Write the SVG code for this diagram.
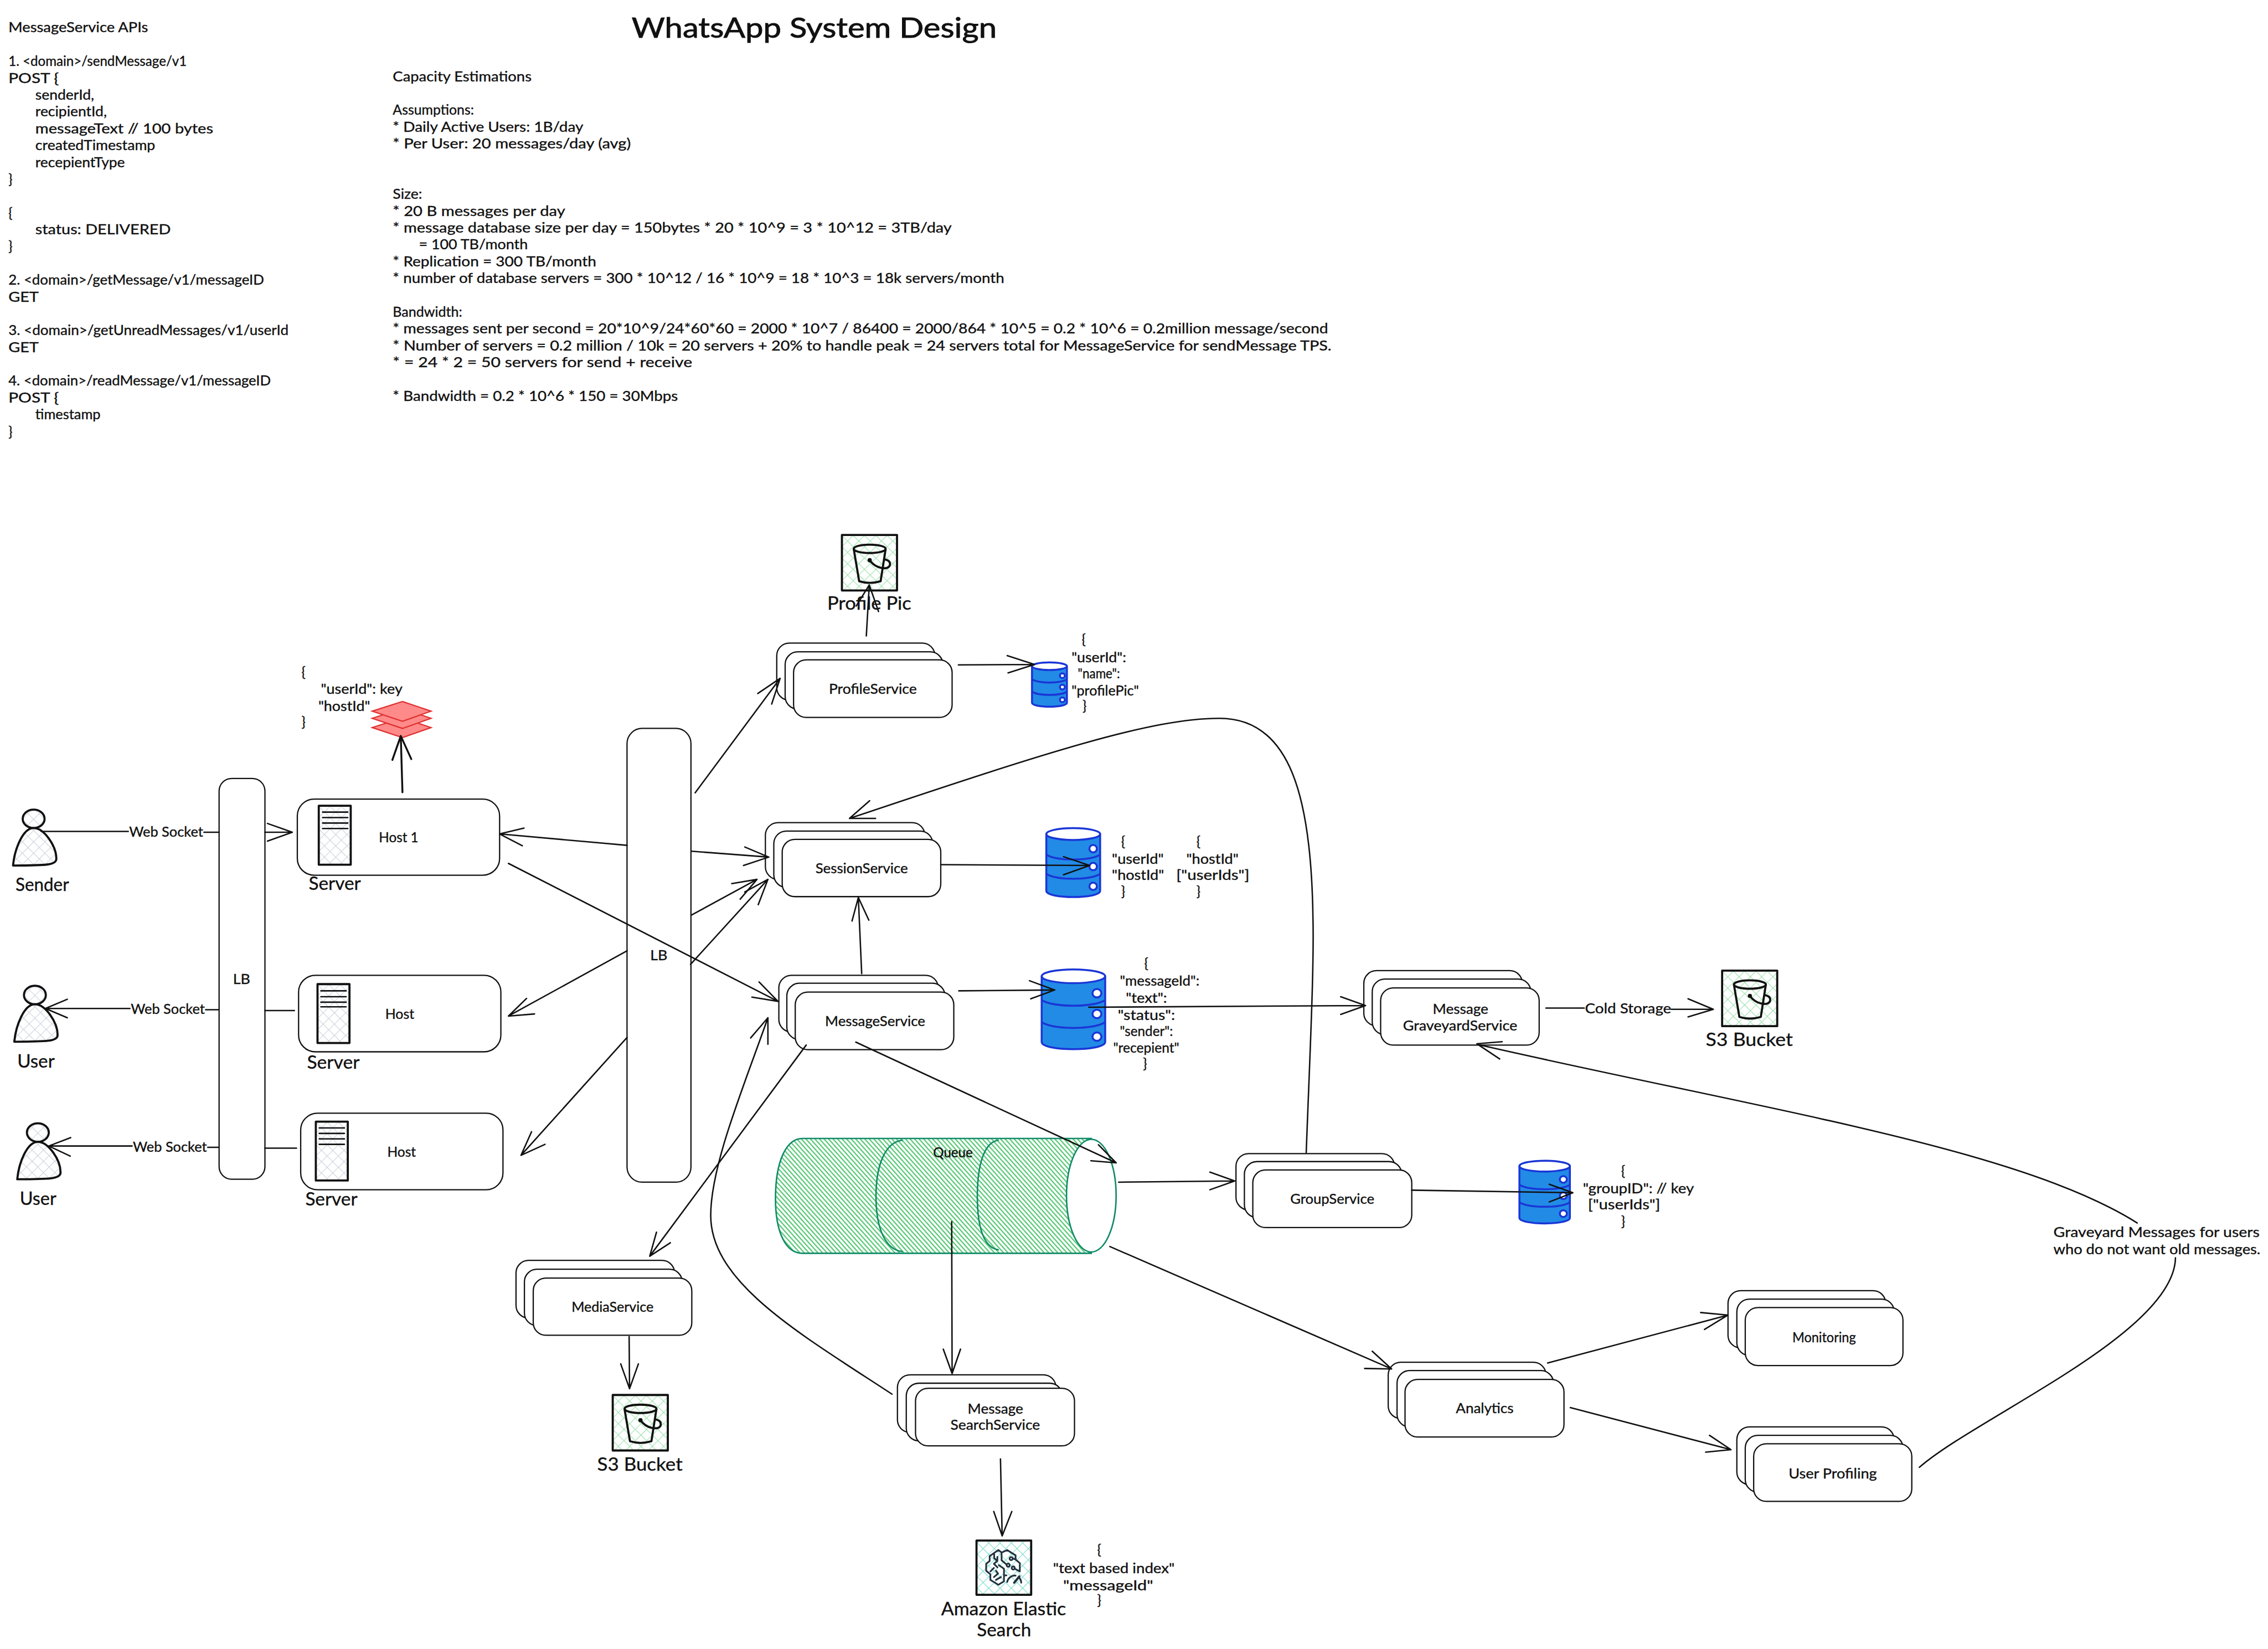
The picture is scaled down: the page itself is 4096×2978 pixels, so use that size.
<svg xmlns="http://www.w3.org/2000/svg" width="4096" height="2978" viewBox="0 0 4096 2978">
<style>
text{font-family:"Lato","Liberation Sans",sans-serif;fill:#111;stroke:#111;stroke-width:.5;font-size:32px}
.s{font-size:30px}
.l{font-size:44px}
.h{font-size:66px;stroke-width:1.2}
.n{fill:#fff;stroke:#111;stroke-width:3}
.c{fill:none;stroke:#111;stroke-width:3.4;stroke-linecap:round;stroke-linejoin:round}
.b{fill:none;stroke:#111;stroke-width:4.5;stroke-linecap:round;stroke-linejoin:round}
.ic{stroke:#111;stroke-width:5;stroke-linejoin:round}
.k{stroke:#111;stroke-width:3.5;stroke-linecap:round}
.d{stroke:#1a36d6;stroke-width:3.5;vector-effect:non-scaling-stroke}
.r{fill:#ff8a8a;stroke:#e03131;stroke-width:3}
.q{stroke:#0f8a68;stroke-width:3.5}
</style>
<defs>
<pattern id="hg" width="19" height="19" patternUnits="userSpaceOnUse" patternTransform="rotate(45)"><path d="M0 0H19M0 0V19" stroke="#ced4de" stroke-width="3" fill="none"/></pattern>
<pattern id="hb" width="19" height="19" patternUnits="userSpaceOnUse" patternTransform="rotate(45)"><path d="M0 0H19M0 0V19" stroke="#a0e2af" stroke-width="3" fill="none"/></pattern>
<pattern id="ht" width="19" height="19" patternUnits="userSpaceOnUse" patternTransform="rotate(45)"><path d="M0 0H19M0 0V19" stroke="#80dccd" stroke-width="3" fill="none"/></pattern>
<pattern id="hq" width="8" height="8" patternUnits="userSpaceOnUse" patternTransform="rotate(-42)"><path d="M4 0V8" stroke="#4cc36c" stroke-width="2.8"/></pattern>
<g id="person"><ellipse rx="26" ry="22" fill="url(#hg)" class="ic"/><path class="ic" fill="url(#hg)" d="M-49 111C-45 70-25 22 0 22C25 22 54 65 54 95C54 110 30 111-49 111Z"/></g>
<rect id="srv" width="76" height="140" fill="url(#hg)" class="ic"/>
<g id="bucket"><rect width="131" height="132" fill="url(#hb)" class="ic"/><path class="ic" fill="none" d="M28 33L41 110Q66 118 92 110L104 33"/><ellipse cx="66" cy="33" rx="38" ry="10" fill="none" class="ic"/><circle cx="66" cy="60" r="5" fill="#111"/><path class="ic" fill="none" d="M66 60C80 80 110 85 114 72C116 62 108 60 102 58"/></g>
<g id="db"><path class="d" fill="#228be6" d="M0 13V137C0 155 100 155 100 137V13"/><ellipse cx="50" cy="13" rx="50" ry="13" fill="#fff" class="d"/><path class="d" fill="none" d="M0 58C20 72 80 72 100 58M0 100C20 114 80 114 100 100"/><ellipse cx="87" cy="45" rx="7" ry="8" fill="#fff" class="d"/><ellipse cx="87" cy="84" rx="7" ry="8" fill="#fff" class="d"/><ellipse cx="87" cy="127" rx="7" ry="8" fill="#fff" class="d"/></g>
</defs>
<rect width="4096" height="2978" fill="#fff"/>
<g transform="scale(0.7595)">

<g id="title"><text class="h" x="1502" y="90" textLength="868" lengthAdjust="spacingAndGlyphs">WhatsApp System Design</text></g>

<g id="api-notes">
<text x="20" y="77" textLength="332" lengthAdjust="spacingAndGlyphs">MessageService APIs</text>
<text x="20" y="157" textLength="424" lengthAdjust="spacingAndGlyphs">1. &lt;domain&gt;/sendMessage/v1</text>
<text x="20" y="197" textLength="120" lengthAdjust="spacingAndGlyphs">POST {</text>
<text x="84" y="237" textLength="140" lengthAdjust="spacingAndGlyphs">senderId,</text>
<text x="84" y="277" textLength="170" lengthAdjust="spacingAndGlyphs">recipientId,</text>
<text x="84" y="317" textLength="423" lengthAdjust="spacingAndGlyphs">messageText // 100 bytes</text>
<text x="84" y="357" textLength="285" lengthAdjust="spacingAndGlyphs">createdTimestamp</text>
<text x="84" y="397" textLength="213" lengthAdjust="spacingAndGlyphs">recepientType</text>
<text x="20" y="437">}</text>
<text x="20" y="517">{</text>
<text x="84" y="557" textLength="322" lengthAdjust="spacingAndGlyphs">status: DELIVERED</text>
<text x="20" y="597">}</text>
<text x="20" y="677" textLength="608" lengthAdjust="spacingAndGlyphs">2. &lt;domain&gt;/getMessage/v1/messageID</text>
<text x="20" y="717" textLength="72" lengthAdjust="spacingAndGlyphs">GET</text>
<text x="20" y="797" textLength="666" lengthAdjust="spacingAndGlyphs">3. &lt;domain&gt;/getUnreadMessages/v1/userId</text>
<text x="20" y="837" textLength="72" lengthAdjust="spacingAndGlyphs">GET</text>
<text x="20" y="917" textLength="624" lengthAdjust="spacingAndGlyphs">4. &lt;domain&gt;/readMessage/v1/messageID</text>
<text x="20" y="957" textLength="120" lengthAdjust="spacingAndGlyphs">POST {</text>
<text x="84" y="997" textLength="155" lengthAdjust="spacingAndGlyphs">timestamp</text>
<text x="20" y="1037">}</text>
</g>

<g id="capacity-notes">
<text x="934" y="193" textLength="330" lengthAdjust="spacingAndGlyphs">Capacity Estimations</text>
<text x="934" y="273" textLength="193" lengthAdjust="spacingAndGlyphs">Assumptions:</text>
<text x="934" y="313" textLength="453" lengthAdjust="spacingAndGlyphs">* Daily Active Users: 1B/day</text>
<text x="934" y="353" textLength="566" lengthAdjust="spacingAndGlyphs">* Per User: 20 messages/day (avg)</text>
<text x="934" y="473" textLength="70" lengthAdjust="spacingAndGlyphs">Size:</text>
<text x="934" y="513" textLength="410" lengthAdjust="spacingAndGlyphs">* 20 B messages per day</text>
<text x="934" y="553" textLength="1329" lengthAdjust="spacingAndGlyphs">* message database size per day = 150bytes * 20 * 10^9 = 3 * 10^12 = 3TB/day</text>
<text x="996" y="593" textLength="259" lengthAdjust="spacingAndGlyphs">= 100 TB/month</text>
<text x="934" y="633" textLength="484" lengthAdjust="spacingAndGlyphs">* Replication = 300 TB/month</text>
<text x="934" y="673" textLength="1454" lengthAdjust="spacingAndGlyphs">* number of database servers = 300 * 10^12 / 16 * 10^9 = 18 * 10^3 = 18k servers/month</text>
<text x="934" y="753" textLength="165" lengthAdjust="spacingAndGlyphs">Bandwidth:</text>
<text x="934" y="793" textLength="2224" lengthAdjust="spacingAndGlyphs">* messages sent per second = 20*10^9/24*60*60 = 2000 * 10^7 / 86400 = 2000/864 * 10^5 = 0.2 * 10^6 = 0.2million message/second</text>
<text x="934" y="833" textLength="2232" lengthAdjust="spacingAndGlyphs">* Number of servers = 0.2 million / 10k = 20 servers + 20% to handle peak = 24 servers total for MessageService for sendMessage TPS.</text>
<text x="934" y="873" textLength="712" lengthAdjust="spacingAndGlyphs">* = 24 * 2 = 50 servers for send + receive</text>
<text x="934" y="953" textLength="678" lengthAdjust="spacingAndGlyphs">* Bandwidth = 0.2 * 10^6 * 150 = 30Mbps</text>
</g>

<g id="sender"><use href="#person" x="80" y="1947"/><text class="l" x="37" y="2118" textLength="127" lengthAdjust="spacingAndGlyphs">Sender</text></g>
<g id="user-1"><use href="#person" x="83" y="2366"/><text class="l" x="41" y="2538" textLength="89" lengthAdjust="spacingAndGlyphs">User</text></g>
<g id="user-2"><use href="#person" x="90" y="2693"/><text class="l" x="47" y="2865" textLength="87" lengthAdjust="spacingAndGlyphs">User</text></g>

<g id="lb-1"><rect class="n" x="521" y="1851" width="109" height="953" rx="30"/><text x="554" y="2340" textLength="41" lengthAdjust="spacingAndGlyphs">LB</text></g>

<g id="host-1"><rect class="n" x="707" y="1900" width="481" height="181" rx="40"/><use href="#srv" x="758" y="1916"/><path class="k" d="M767 1931H827M767 1944H827M767 1957H827M767 1970H827"/><text x="901" y="2002" textLength="94" lengthAdjust="spacingAndGlyphs">Host 1</text><text class="l" x="734" y="2116" textLength="124" lengthAdjust="spacingAndGlyphs">Server</text></g>
<g id="host-2"><rect class="n" x="710" y="2319" width="481" height="182" rx="40"/><use href="#srv" x="755" y="2340"/><path class="k" d="M763 2356H823M763 2370H823M763 2383H823M763 2394H823"/><text x="916" y="2422" textLength="69" lengthAdjust="spacingAndGlyphs">Host</text><text class="l" x="730" y="2541" textLength="125" lengthAdjust="spacingAndGlyphs">Server</text></g>
<g id="host-3"><rect class="n" x="715" y="2647" width="481" height="182" rx="40"/><use href="#srv" x="751" y="2667"/><path class="k" d="M759 2682H819M759 2695H819M759 2708H819M759 2721H819"/><text x="921" y="2751" textLength="68" lengthAdjust="spacingAndGlyphs">Host</text><text class="l" x="726" y="2867" textLength="124" lengthAdjust="spacingAndGlyphs">Server</text></g>

<g id="cache"><path class="r" d="M957 1707L1025 1730L957 1754L885 1730Z"/><path class="r" d="M957 1685L1025 1708L957 1732L885 1708Z"/><path class="r" d="M957 1668L1025 1691L957 1715L885 1691Z"/>
<text x="717" y="1609">{</text><text x="763" y="1650" textLength="194" lengthAdjust="spacingAndGlyphs">"userId": key</text><text x="757" y="1690" textLength="123" lengthAdjust="spacingAndGlyphs">"hostId"</text><text x="717" y="1728">}</text></g>

<g id="lb-2"><rect class="n" x="1491" y="1732" width="152" height="1079" rx="36"/><text x="1546" y="2283" textLength="41" lengthAdjust="spacingAndGlyphs">LB</text></g>

<g id="profile-service"><rect class="n" x="1847" y="1529" width="376" height="136" rx="30"/><rect class="n" x="1867" y="1550" width="375" height="136" rx="30"/><rect class="n" x="1887" y="1569" width="377" height="137" rx="30"/><text x="1971" y="1650" textLength="209" lengthAdjust="spacingAndGlyphs">ProfileService</text></g>
<g id="profile-bucket"><use href="#bucket" x="2002" y="1272"/><text class="l" x="1967" y="1450" textLength="200" lengthAdjust="spacingAndGlyphs">Profile Pic</text></g>
<g id="profile-db"><use href="#db" transform="translate(2454 1575) scale(.83 .7)"/><text x="2572" y="1531">{</text><text x="2548" y="1575" textLength="130" lengthAdjust="spacingAndGlyphs">"userId":</text><text x="2563" y="1613" textLength="100" lengthAdjust="spacingAndGlyphs">"name":</text><text x="2548" y="1654" textLength="160" lengthAdjust="spacingAndGlyphs">"profilePic"</text><text x="2574" y="1689">}</text></g>

<g id="session-service"><rect class="n" x="1820" y="1956" width="379" height="135" rx="30"/><rect class="n" x="1840" y="1976" width="378" height="134" rx="30"/><rect class="n" x="1860" y="1996" width="377" height="136" rx="30"/><text x="1939" y="2077" textLength="220" lengthAdjust="spacingAndGlyphs">SessionService</text></g>
<g id="session-db"><use href="#db" transform="translate(2488 1969) scale(1.28 1.09)"/><text x="2666" y="2012">{</text><text x="2644" y="2054" textLength="123" lengthAdjust="spacingAndGlyphs">"userId"</text><text x="2644" y="2092" textLength="124" lengthAdjust="spacingAndGlyphs">"hostId"</text><text x="2666" y="2131">}</text><text x="2845" y="2012">{</text><text x="2821" y="2054" textLength="124" lengthAdjust="spacingAndGlyphs">"hostId"</text><text x="2797" y="2092" textLength="174" lengthAdjust="spacingAndGlyphs">["userIds"]</text><text x="2845" y="2131">}</text></g>

<g id="message-service"><rect class="n" x="1852" y="2319" width="379" height="135" rx="30"/><rect class="n" x="1871" y="2338" width="376" height="134" rx="30"/><rect class="n" x="1891" y="2359" width="377" height="137" rx="30"/><text x="1962" y="2440" textLength="238" lengthAdjust="spacingAndGlyphs">MessageService</text></g>
<g id="message-db"><use href="#db" transform="translate(2477 2305) scale(1.51 1.26)"/><text x="2721" y="2302">{</text><text x="2663" y="2344" textLength="189" lengthAdjust="spacingAndGlyphs">"messageId":</text><text x="2677" y="2384" textLength="98" lengthAdjust="spacingAndGlyphs">"text":</text><text x="2658" y="2425" textLength="136" lengthAdjust="spacingAndGlyphs">"status":</text><text x="2663" y="2463" textLength="126" lengthAdjust="spacingAndGlyphs">"sender":</text><text x="2647" y="2503" textLength="157" lengthAdjust="spacingAndGlyphs">"recepient"</text><text x="2718" y="2540">}</text></g>

<g id="graveyard-service"><rect class="n" x="3243" y="2308" width="377" height="131" rx="30"/><rect class="n" x="3263" y="2328" width="377" height="132" rx="30"/><rect class="n" x="3283" y="2349" width="377" height="136" rx="30"/><text x="3407" y="2411" textLength="132" lengthAdjust="spacingAndGlyphs">Message</text><text x="3336" y="2450" textLength="272" lengthAdjust="spacingAndGlyphs">GraveyardService</text></g>
<g id="cold-bucket"><use href="#bucket" x="4095" y="2308"/><text class="l" x="4056" y="2487" textLength="207" lengthAdjust="spacingAndGlyphs">S3 Bucket</text></g>

<g id="queue"><path class="q" fill="url(#hq)" d="M1908 2707H2595V2980H1908C1868 2980 1844 2930 1844 2850C1844 2760 1870 2707 1908 2707Z"/><ellipse class="q" fill="#fff" cx="2595" cy="2843" rx="59" ry="134"/><path class="q" fill="none" d="M2147 2711C2105 2715 2083 2770 2083 2845C2083 2920 2105 2973 2147 2976M2375 2711C2340 2715 2324 2770 2324 2845C2324 2920 2340 2968 2375 2972"/><text x="2219" y="2752" textLength="94" lengthAdjust="spacingAndGlyphs">Queue</text></g>

<g id="group-service"><rect class="n" x="2939" y="2743" width="377" height="134" rx="30"/><rect class="n" x="2959" y="2762" width="374" height="133" rx="30"/><rect class="n" x="2979" y="2782" width="378" height="137" rx="30"/><text x="3068" y="2862" textLength="200" lengthAdjust="spacingAndGlyphs">GroupService</text></g>
<g id="group-db"><use href="#db" transform="translate(3613 2760) scale(1.2 .99)"/><text x="3855" y="2795">{</text><text x="3764" y="2838" textLength="264" lengthAdjust="spacingAndGlyphs">"groupID": // key</text><text x="3776" y="2875" textLength="172" lengthAdjust="spacingAndGlyphs">["userIds"]</text><text x="3855" y="2915">}</text></g>

<g id="analytics"><rect class="n" x="3301" y="3239" width="375" height="134" rx="30"/><rect class="n" x="3322" y="3259" width="372" height="134" rx="30"/><rect class="n" x="3341" y="3280" width="378" height="137" rx="30"/><text x="3462" y="3360" textLength="137" lengthAdjust="spacingAndGlyphs">Analytics</text></g>
<g id="monitoring"><rect class="n" x="4109" y="3069" width="375" height="136" rx="30"/><rect class="n" x="4130" y="3089" width="374" height="134" rx="30"/><rect class="n" x="4150" y="3109" width="375" height="138" rx="30"/><text x="4262" y="3192" textLength="151" lengthAdjust="spacingAndGlyphs">Monitoring</text></g>
<g id="user-profiling"><rect class="n" x="4130" y="3393" width="374" height="137" rx="30"/><rect class="n" x="4150" y="3413" width="375" height="135" rx="30"/><rect class="n" x="4170" y="3433" width="376" height="137" rx="30"/><text x="4253" y="3515" textLength="210" lengthAdjust="spacingAndGlyphs">User Profiling</text></g>

<g id="graveyard-note"><text x="4883" y="2942" textLength="490" lengthAdjust="spacingAndGlyphs">Graveyard Messages for users</text><text x="4883" y="2982" textLength="492" lengthAdjust="spacingAndGlyphs">who do not want old messages.</text></g>

<g id="media-service"><rect class="n" x="1227" y="2997" width="377" height="137" rx="30"/><rect class="n" x="1247" y="3018" width="375" height="134" rx="30"/><rect class="n" x="1268" y="3039" width="377" height="136" rx="30"/><text x="1359" y="3119" textLength="195" lengthAdjust="spacingAndGlyphs">MediaService</text></g>
<g id="media-bucket"><use href="#bucket" x="1457" y="3317"/><text class="l" x="1420" y="3497" textLength="203" lengthAdjust="spacingAndGlyphs">S3 Bucket</text></g>

<g id="search-service"><rect class="n" x="2134" y="3269" width="377" height="137" rx="30"/><rect class="n" x="2155" y="3289" width="371" height="137" rx="30"/><rect class="n" x="2177" y="3301" width="378" height="137" rx="30"/><text x="2301" y="3361" textLength="132" lengthAdjust="spacingAndGlyphs">Message</text><text x="2260" y="3400" textLength="213" lengthAdjust="spacingAndGlyphs">SearchService</text></g>
<g id="elastic-search"><rect x="2322" y="3663" width="130" height="129" fill="url(#ht)" class="ic"/>
<g transform="translate(2300 3640) scale(.3333)" fill="none" stroke="#232f3e" stroke-width="12" stroke-linecap="round" stroke-linejoin="round"><path d="M222 137L160 180V215L135 235V285L165 310V350L222 385L262 360V270L225 245M222 137L245 155V210L280 240M245 155L285 137L345 175V205L375 230V290L342 272M192 165V195L215 215V185M215 215L190 235L215 260M165 290L190 265M205 285L220 305L190 330M205 350L240 330M262 318H280M328 198L345 205M285 365C290 335 320 315 345 320M385 370C385 355 380 345 372 335"/><circle cx="313" cy="198" r="11"/><circle cx="292" cy="245" r="11"/><circle cx="328" cy="265" r="11"/><path stroke-width="16" d="M335 370L372 325"/></g>
<text class="l" x="2238" y="3841" textLength="297" lengthAdjust="spacingAndGlyphs">Amazon Elastic</text><text class="l" x="2323" y="3891" textLength="129" lengthAdjust="spacingAndGlyphs">Search</text>
<text x="2609" y="3696">{</text><text x="2504" y="3741" textLength="289" lengthAdjust="spacingAndGlyphs">"text based index"</text><text x="2528" y="3782" textLength="214" lengthAdjust="spacingAndGlyphs">"messageId"</text><text x="2609" y="3816">}</text></g>

<g id="connectors">
<path class="c" d="M98 1977H305M485 1979H521"/><text x="307" y="1990" textLength="176" lengthAdjust="spacingAndGlyphs">Web Socket</text>
<path class="c" d="M108 2398H309M489 2401H520M160 2376L108 2398L160 2420"/><text x="311" y="2411" textLength="176" lengthAdjust="spacingAndGlyphs">Web Socket</text>
<path class="c" d="M116 2725H314M494 2728H520M168 2705L116 2725L167 2749"/><text x="316" y="2739" textLength="176" lengthAdjust="spacingAndGlyphs">Web Socket</text>
<path class="c" d="M630 1979H695M636 1958L695 1979L636 2000"/>
<path class="c" d="M630 2403H700"/>
<path class="c" d="M630 2730H705"/>
<path class="b" d="M957 1884L953 1750M933 1807L953 1750L978 1805"/>
<path class="c" d="M1491 2010L1188 1983M1246 1969L1188 1983L1242 2011"/>
<path class="c" d="M1491 2261L1209 2416M1252 2374L1209 2416L1271 2411"/>
<path class="c" d="M1491 2467L1239 2747M1264 2691L1239 2747L1296 2721"/>
<path class="c" d="M1209 2053L1850 2381M1805 2335L1850 2381L1788 2371"/>
<path class="c" d="M1653 1885L1855 1613M1802 1649L1855 1613L1835 1674"/>
<path class="c" d="M1644 2024L1828 2038M1771 2014L1828 2038L1768 2058"/>
<path class="c" d="M1644 2176L1800 2091M1740 2101L1800 2091L1760 2138"/>
<path class="c" d="M1642 2293L1826 2091M1771 2121L1826 2091L1803 2151"/>
<path class="c" d="M2060 1512L2067 1391M2036 1441L2067 1391L2089 1454"/>
<path class="c" d="M2279 1581L2460 1580M2395 1559L2460 1580L2397 1600"/>
<path class="c" d="M2237 2056L2591 2058M2529 2037L2591 2058L2529 2080"/>
<path class="c" d="M2049 2315L2041 2134M2026 2190L2041 2134L2066 2188"/>
<path class="c" d="M2280 2356L2508 2354M2448 2332L2508 2354L2451 2375"/>
<path class="c" d="M2589 2395L3247 2391M3188 2370L3247 2391L3188 2412"/>
<path class="c" d="M3676 2397H3767M3974 2400H4074M4014 2375L4074 2400L4014 2418"/><text x="3769" y="2409" textLength="205" lengthAdjust="spacingAndGlyphs">Cold Storage</text>
<path class="c" d="M3106 2741C3115 2500 3125 2300 3122 2180C3118 1900 3070 1708 2900 1708C2740 1708 2500 1785 2020 1946M2068 1904L2020 1946L2082 1946"/>
<path class="c" d="M2035 2478L2654 2765M2612 2722L2654 2765L2594 2760"/>
<path class="c" d="M2660 2811L2936 2808M2877 2787L2936 2808L2877 2829"/>
<path class="c" d="M3357 2830L3740 2836M3684 2816L3740 2836L3684 2858"/>
<path class="c" d="M2639 2964L3309 3255M3263 3213L3309 3255L3245 3254"/>
<path class="c" d="M3680 3241L4109 3127M4044 3121L4109 3127L4053 3161"/>
<path class="c" d="M3734 3347L4116 3447M4065 3413L4116 3447L4056 3453"/>
<path class="c" d="M4564 3489C4700 3370 5170 3170 5173 2991"/>
<path class="c" d="M5082 2908C4800 2730 4200 2640 3515 2484M3566 2518L3512 2482L3572 2477"/>
<path class="c" d="M1917 2485L1545 2987M1561 2930L1545 2987L1594 2955"/>
<path class="c" d="M1496 3178L1497 3302M1476 3243L1497 3302L1518 3243"/>
<path class="c" d="M2121 3315C1900 3170 1690 3050 1690 2890C1690 2770 1770 2580 1826 2420M1785 2468L1826 2420L1826 2483"/>
<path class="c" d="M2263 2905L2264 3266M2243 3208L2264 3266L2284 3208"/>
<path class="c" d="M2379 3469L2383 3652M2363 3594L2383 3652L2406 3594"/>
</g>
</g>
</svg>
